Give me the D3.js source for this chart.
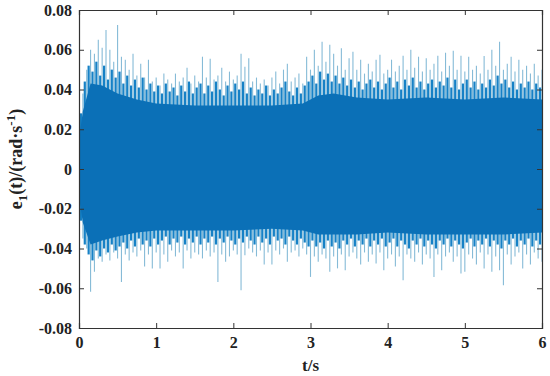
<!DOCTYPE html>
<html>
<head>
<meta charset="utf-8">
<script src="https://cdn.jsdelivr.net/npm/d3@7"></script>
<style>
  body { margin: 0; background: #fff; }
</style>
</head>
<body>
<div id="chart"></div>
<script>
var serif = "'Liberation Serif', 'DejaVu Serif', serif";

// tall spike tips, one every 0.05 s from 0 to 6 s
var spikeStep = 0.05;
var peakHi = [
  0.022, 0.038, 0.050, 0.060, 0.058, 0.065, 0.061, 0.070, 0.060, 0.054,
  0.0725, 0.0565, 0.055, 0.050, 0.058, 0.047, 0.053, 0.046, 0.055, 0.044,
  0.046, 0.042, 0.048, 0.045, 0.043, 0.048, 0.044, 0.046, 0.051, 0.043,
  0.047, 0.044, 0.0565, 0.046, 0.0555, 0.045, 0.047, 0.051, 0.044, 0.049,
  0.045, 0.047, 0.058, 0.0515, 0.0557, 0.044, 0.046, 0.043, 0.045, 0.042,
  0.046, 0.049, 0.043, 0.050, 0.053, 0.044, 0.046, 0.048, 0.043, 0.0565,
  0.050, 0.060, 0.052, 0.064, 0.054, 0.0625, 0.058, 0.052, 0.0607, 0.050,
  0.0557, 0.059, 0.050, 0.055, 0.048, 0.053, 0.049, 0.055, 0.0575, 0.048,
  0.050, 0.055, 0.049, 0.052, 0.057, 0.050, 0.060, 0.051, 0.0565, 0.049,
  0.0557, 0.050, 0.053, 0.057, 0.049, 0.0585, 0.052, 0.0595, 0.050, 0.057,
  0.049, 0.0565, 0.050, 0.052, 0.048, 0.0568, 0.050, 0.060, 0.052, 0.064,
  0.050, 0.053, 0.0565, 0.049, 0.055, 0.050, 0.052, 0.048, 0.053, 0.047,
  0.050
];
var peakLo = [
  -0.020, -0.035, -0.040, -0.0618, -0.0517, -0.045, -0.0467, -0.043, -0.046, -0.042,
  -0.045, -0.0568, -0.043, -0.046, -0.042, -0.044, -0.041, -0.049, -0.043, -0.050,
  -0.042, -0.050, -0.043, -0.0467, -0.041, -0.044, -0.042, -0.050, -0.041, -0.045,
  -0.042, -0.043, -0.045, -0.041, -0.044, -0.042, -0.0568, -0.043, -0.0467, -0.044,
  -0.041, -0.043, -0.061, -0.0434, -0.040, -0.042, -0.044, -0.041, -0.048, -0.042,
  -0.048, -0.041, -0.043, -0.040, -0.0467, -0.042, -0.041, -0.044, -0.040, -0.043,
  -0.0543, -0.044, -0.0467, -0.043, -0.045, -0.0517, -0.044, -0.050, -0.043, -0.051,
  -0.044, -0.042, -0.045, -0.048, -0.042, -0.0467, -0.043, -0.0475, -0.042, -0.051,
  -0.045, -0.043, -0.049, -0.044, -0.056, -0.043, -0.045, -0.0467, -0.042, -0.048,
  -0.043, -0.045, -0.0543, -0.043, -0.051, -0.044, -0.042, -0.0467, -0.044, -0.0526,
  -0.0517, -0.043, -0.045, -0.048, -0.042, -0.050, -0.043, -0.0517, -0.044, -0.051,
  -0.0585, -0.043, -0.048, -0.044, -0.042, -0.050, -0.043, -0.048, -0.042, -0.045,
  -0.0467
];

// medium spikes in between, at 0.025 + i*0.05 s
var medHi = [
  0.028, 0.044, 0.052, 0.049, 0.054, 0.047, 0.052, 0.045, 0.050, 0.046,
  0.049, 0.043, 0.047, 0.042, 0.045, 0.041, 0.046, 0.040, 0.043, 0.039,
  0.042, 0.038, 0.043, 0.039, 0.041, 0.037, 0.042, 0.039, 0.044, 0.038,
  0.041, 0.043, 0.038, 0.042, 0.039, 0.044, 0.040, 0.037, 0.042, 0.039,
  0.043, 0.040, 0.044, 0.038, 0.041, 0.037, 0.040, 0.038, 0.042, 0.037,
  0.040, 0.038, 0.041, 0.044, 0.039, 0.037, 0.041, 0.038, 0.042, 0.044,
  0.047, 0.043, 0.049, 0.045, 0.048, 0.044, 0.047, 0.043, 0.046, 0.042,
  0.045, 0.041, 0.044, 0.040, 0.043, 0.045, 0.041, 0.044, 0.040, 0.043,
  0.046, 0.041, 0.044, 0.040, 0.045, 0.042, 0.046, 0.041, 0.044, 0.040,
  0.043, 0.045, 0.041, 0.044, 0.042, 0.046, 0.041, 0.045, 0.040, 0.043,
  0.045, 0.041, 0.044, 0.040, 0.043, 0.041, 0.045, 0.042, 0.047, 0.043,
  0.045, 0.041, 0.044, 0.040, 0.043, 0.041, 0.044, 0.040, 0.043, 0.041
];
var medLo = [
  -0.026, -0.038, -0.043, -0.046, -0.041, -0.044, -0.040, -0.042, -0.038, -0.041,
  -0.039, -0.037, -0.040, -0.036, -0.039, -0.035, -0.038, -0.036, -0.039, -0.035,
  -0.038, -0.036, -0.034, -0.038, -0.035, -0.037, -0.034, -0.038, -0.035, -0.037,
  -0.034, -0.038, -0.035, -0.037, -0.034, -0.038, -0.035, -0.037, -0.034, -0.036,
  -0.038, -0.035, -0.037, -0.034, -0.036, -0.038, -0.034, -0.037, -0.035, -0.038,
  -0.034, -0.036, -0.035, -0.038, -0.034, -0.036, -0.038, -0.035, -0.037, -0.039,
  -0.036, -0.039, -0.037, -0.040, -0.036, -0.039, -0.037, -0.040, -0.036, -0.038,
  -0.035, -0.039, -0.036, -0.038, -0.035, -0.039, -0.036, -0.038, -0.035, -0.039,
  -0.037, -0.035, -0.039, -0.036, -0.038, -0.040, -0.036, -0.038, -0.035, -0.039,
  -0.036, -0.038, -0.040, -0.036, -0.038, -0.035, -0.039, -0.036, -0.038, -0.040,
  -0.037, -0.035, -0.039, -0.036, -0.038, -0.035, -0.039, -0.036, -0.038, -0.040,
  -0.036, -0.038, -0.035, -0.039, -0.036, -0.038, -0.035, -0.039, -0.036, -0.038
];

// solid core of the band
var envT   = [0, 0.05, 0.15, 0.3, 0.5, 0.75, 1, 1.5, 2, 2.5, 2.9, 3.1, 3.3, 3.6, 4, 4.5, 5, 5.5, 6];
var coreHi = [0.015, 0.029, 0.043, 0.042, 0.038, 0.035, 0.033, 0.032, 0.032, 0.032, 0.033, 0.037, 0.038, 0.036, 0.035, 0.036, 0.035, 0.036, 0.035];
var coreLo = [-0.014, -0.027, -0.038, -0.036, -0.034, -0.032, -0.031, -0.031, -0.031, -0.030, -0.031, -0.033, -0.033, -0.033, -0.032, -0.033, -0.033, -0.033, -0.032];

var xTicks = [0, 1, 2, 3, 4, 5, 6];
var yTicks = [-0.08, -0.06, -0.04, -0.02, 0, 0.02, 0.04, 0.06, 0.08];

var margin = {top: 10, right: 8, bottom: 48, left: 79},
  width = 550 - margin.left - margin.right,
  height = 376 - margin.top - margin.bottom;

var x = d3.scaleLinear().domain([0, 6]).range([0, width]);
var y = d3.scaleLinear().domain([-0.08, 0.08]).range([height, 0]);

var svg = d3.select("#chart").append("svg")
  .attr("width", 550)
  .attr("height", 376)
  .append("g")
  .attr("transform", "translate(" + margin.left + "," + margin.top + ")");

svg.append("clipPath").attr("id", "clip")
  .append("rect").attr("width", width).attr("height", height);

var plot = svg.append("g").attr("clip-path", "url(#clip)");

// light tall spikes
plot.selectAll(".spike")
  .data(peakHi)
  .enter()
  .append("line")
  .attr("class", "spike")
  .attr("x1", function(d, i) { return x(i * spikeStep); })
  .attr("x2", function(d, i) { return x(i * spikeStep); })
  .attr("y1", function(d, i) { return y(peakLo[i]); })
  .attr("y2", function(d) { return y(d); })
  .attr("stroke", "#86bbd7")
  .attr("stroke-width", 1.1);

// medium spikes
plot.selectAll(".med")
  .data(medHi)
  .enter()
  .append("line")
  .attr("class", "med")
  .attr("x1", function(d, i) { return x(spikeStep / 2 + i * spikeStep); })
  .attr("x2", function(d, i) { return x(spikeStep / 2 + i * spikeStep); })
  .attr("y1", function(d, i) { return y(medLo[i]); })
  .attr("y2", function(d) { return y(d); })
  .attr("stroke", "#1681c6")
  .attr("stroke-width", 2.2);

var band = envT.map(function(t, i) {
  return {t: t, hi: coreHi[i], lo: coreLo[i]};
});

plot.append("path")
  .datum(band)
  .attr("fill", "#0b70b7")
  .attr("d", d3.area()
    .x(function(d) { return x(d.t); })
    .y0(function(d) { return y(d.lo); })
    .y1(function(d) { return y(d.hi); }));

// axes, MATLAB style box with inward ticks
var xAxis = d3.axisBottom(x).tickValues(xTicks).tickSize(-5).tickPadding(9).tickFormat(d3.format("d"));
var xTop = d3.axisTop(x).tickValues(xTicks).tickSize(-5).tickFormat("");
var yAxis = d3.axisLeft(y).tickValues(yTicks).tickSize(-5).tickPadding(7)
  .tickFormat(function(d) { return d === 0 ? "0" : d3.format(".2f")(d).replace("\u2212", "-"); });
var yRight = d3.axisRight(y).tickValues(yTicks).tickSize(-5).tickFormat("");

function style(g) {
  g.attr("font-family", serif).attr("font-size", 16).attr("font-weight", "bold");
  g.select(".domain").attr("stroke", "#333").attr("stroke-width", 1.2);
  g.selectAll(".tick line").attr("stroke", "#333");
  g.selectAll("text").attr("fill", "#222");
}

svg.append("g").attr("transform", "translate(0," + height + ")").call(xAxis).call(style);
svg.append("g").call(xTop).call(style);
svg.append("g").call(yAxis).call(style);
svg.append("g").attr("transform", "translate(" + width + ",0)").call(yRight).call(style);

svg.append("text")
  .attr("x", width / 2)
  .attr("y", height + 43)
  .attr("text-anchor", "middle")
  .attr("font-family", serif)
  .attr("font-weight", "bold")
  .attr("font-size", 17)
  .attr("fill", "#222")
  .text("t/s");

var yl = svg.append("text")
  .attr("transform", "translate(-57," + (height / 2 - 10) + ") rotate(-90)")
  .attr("text-anchor", "middle")
  .attr("font-family", serif)
  .attr("font-weight", "bold")
  .attr("font-size", 18)
  .attr("fill", "#222");
yl.append("tspan").text("e");
yl.append("tspan").attr("dy", 5).attr("font-size", 13).text("1");
yl.append("tspan").attr("dy", -5).text("(t)/(rad\u00b7s");
yl.append("tspan").attr("dy", -7).attr("font-size", 13).text("-1");
yl.append("tspan").attr("dy", 7).text(")");
</script>
</body>
</html>
